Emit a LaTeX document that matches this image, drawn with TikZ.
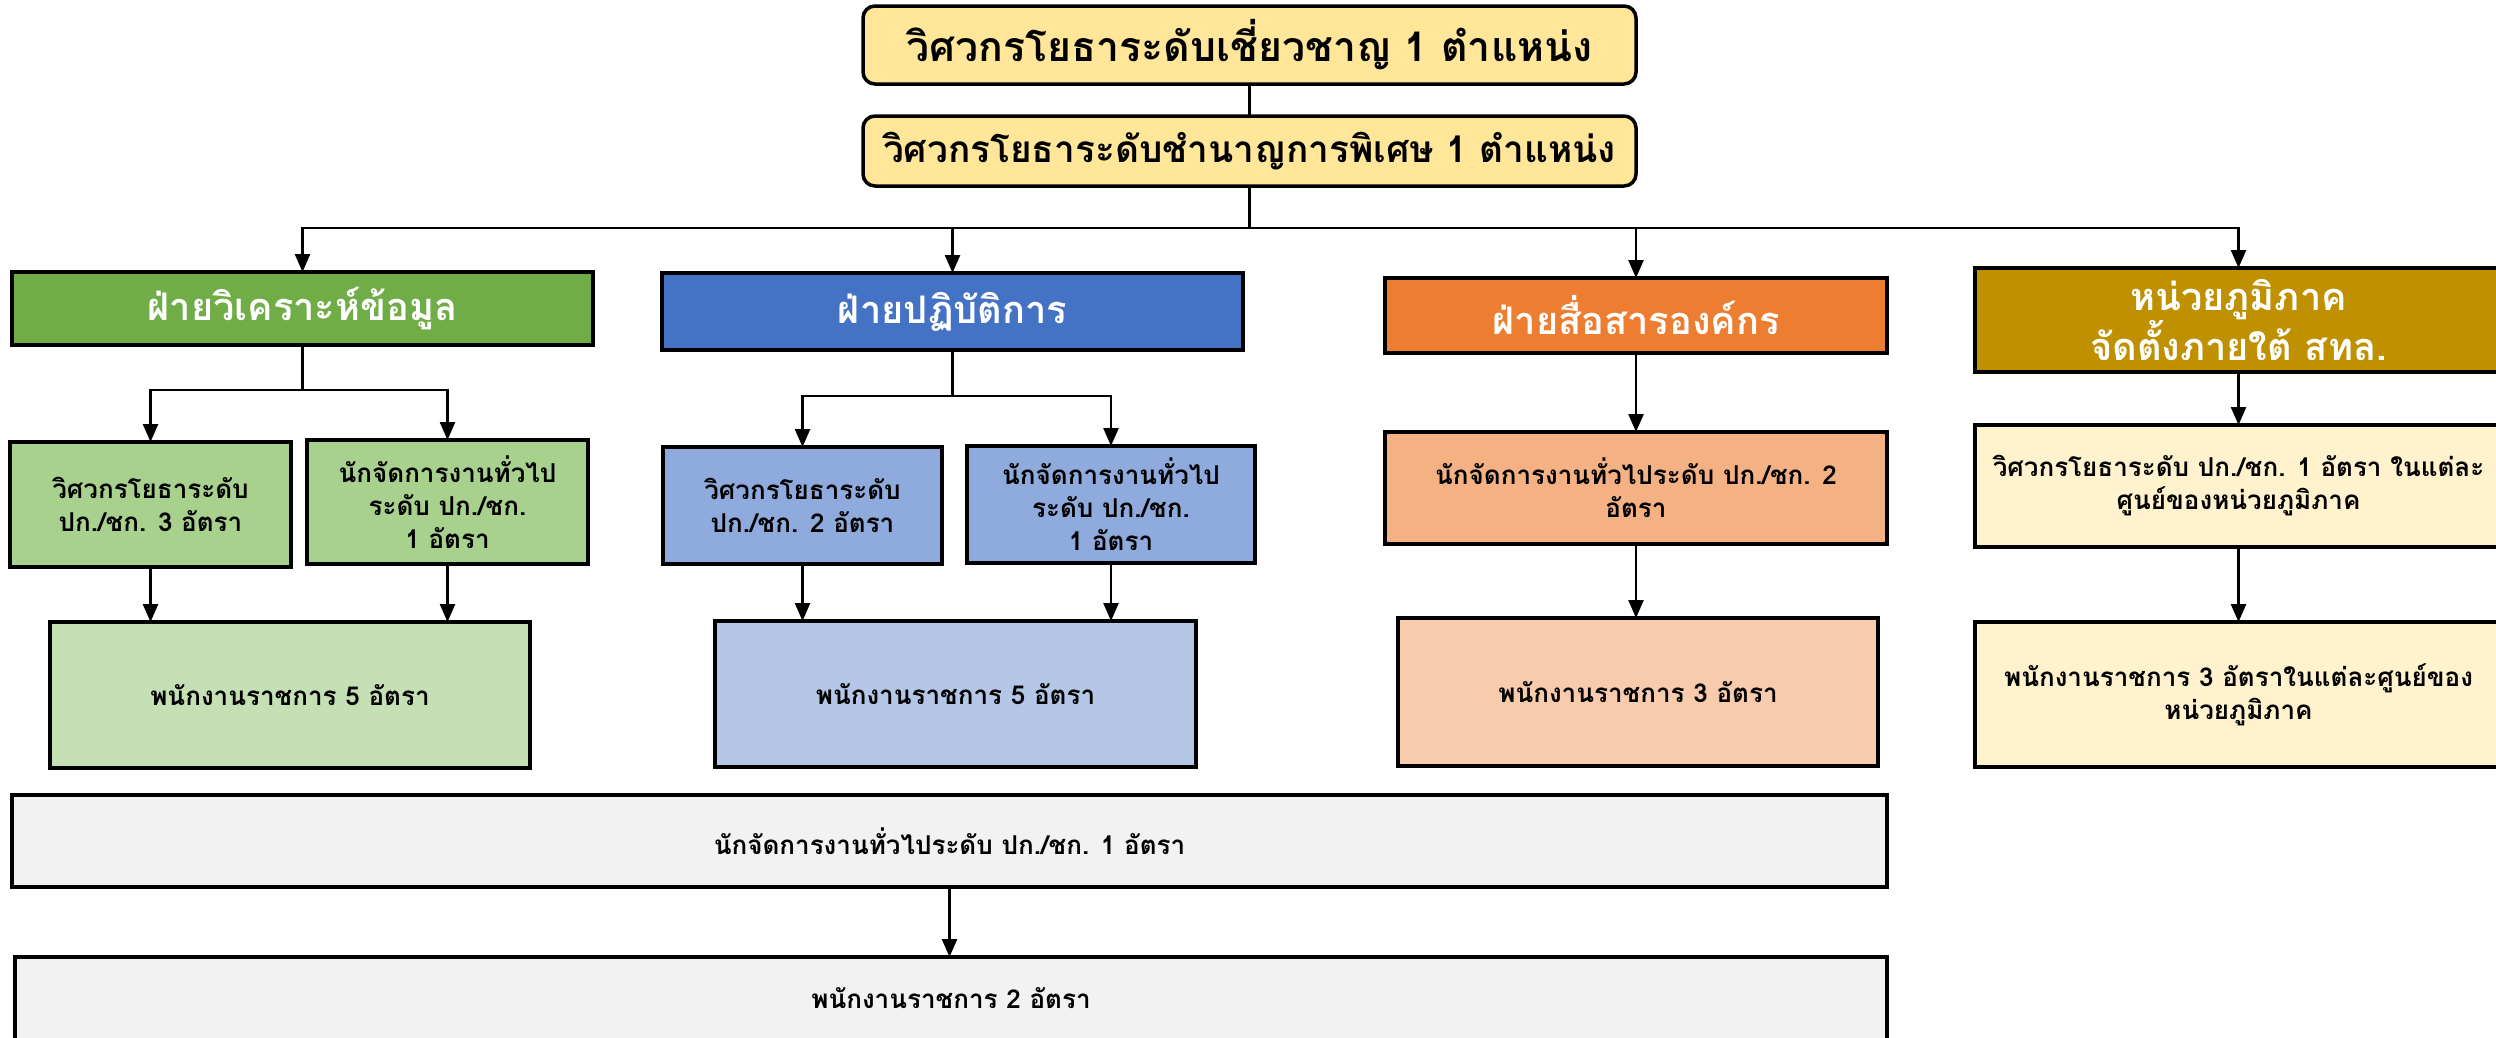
\documentclass[tikz,border=0pt]{standalone}
\usepackage{fontspec}
\newfontfamily\thai[Script=Thai]{Loma}
\usetikzlibrary{arrows.meta}
\definecolor{ttl}{HTML}{FFE699}
\definecolor{dA}{HTML}{70AD47}
\definecolor{dB}{HTML}{4472C4}
\definecolor{dC}{HTML}{ED7D31}
\definecolor{dD}{HTML}{BF9000}
\definecolor{sA}{HTML}{A9D18E}
\definecolor{sB}{HTML}{8FAADC}
\definecolor{sC}{HTML}{F4B183}
\definecolor{sD}{HTML}{FFF2CC}
\definecolor{pA}{HTML}{C5E0B4}
\definecolor{pB}{HTML}{B4C7E7}
\definecolor{pC}{HTML}{F8CBAD}
\definecolor{gry}{HTML}{F2F2F2}
\begin{document}
\begin{tikzpicture}[x=1pt,y=-1pt,
  box/.style={draw=black, line width=3.5pt, inner sep=6pt, outer sep=0pt, align=center,
    text=black, font=\thai\bfseries\fontsize{26}{33}\selectfont},
  ttlbox/.style={box, rounded corners=12pt, fill=ttl},
  dept/.style={box, text=white, font=\thai\bfseries\fontsize{38}{44}\selectfont},
  ln/.style={line width=2.5pt},
  arr/.style={ln, -{Triangle[length=18pt,width=15pt]}}]
\useasboundingbox (0,0) rectangle (2496,1037);
\fill[white] (0,0) rectangle (2496,1037);
\clip (0,0) rectangle (2496,1037);

\node[ttlbox, minimum width=773, minimum height=78, font=\thai\bfseries\fontsize{41}{48}\selectfont] (T1) at (1249.5,45) {วิศวกรโยธาระดับเชี่ยวชาญ 1 ตำแหน่ง};
\node[ttlbox, minimum width=773, minimum height=70, font=\thai\bfseries\fontsize{37}{44}\selectfont] (T2) at (1249.5,151) {วิศวกรโยธาระดับชำนาญการพิเศษ 1 ตำแหน่ง};

\node[dept, fill=dA, minimum width=581, minimum height=73] (D1) at (302.5,308.5) {ฝ่ายวิเคราะห์ข้อมูล};
\node[dept, fill=dB, minimum width=581, minimum height=77] (D2) at (952.5,311.5) {ฝ่ายปฏิบัติการ};
\node[dept, fill=dC, minimum width=502, minimum height=75] (D3) at (1636,315.5) {ฝ่ายสื่อสารองค์กร};
\node[dept, fill=dD, minimum width=527, minimum height=104] (D4) at (2238.5,320) {หน่วยภูมิภาค\\จัดตั้งภายใต้ สทล.};

\node[box, fill=sA, minimum width=281, minimum height=125] (S1a) at (150.5,504.5) {วิศวกรโยธาระดับ\\ปก./ชก. 3 อัตรา};
\node[box, fill=sA, minimum width=281, minimum height=124] (S1b) at (447.5,502) {นักจัดการงานทั่วไป\\ระดับ ปก./ชก.\\1 อัตรา};
\node[box, fill=sB, minimum width=279, minimum height=117] (S2a) at (802.5,505.5) {วิศวกรโยธาระดับ\\ปก./ชก. 2 อัตรา};
\node[box, fill=sB, minimum width=288, minimum height=117] (S2b) at (1111,504.5) {นักจัดการงานทั่วไป\\ระดับ ปก./ชก.\\1 อัตรา};
\node[box, fill=sC, minimum width=502, minimum height=112] (S3) at (1636,488) {นักจัดการงานทั่วไประดับ ปก./ชก. 2\\อัตรา};
\node[box, fill=sD, minimum width=527, minimum height=122] (S4) at (2238.5,486) {วิศวกรโยธาระดับ ปก./ชก. 1 อัตรา ในแต่ละ\\ศูนย์ของหน่วยภูมิภาค};

\node[box, fill=pA, minimum width=480, minimum height=146] (P1) at (290,695) {พนักงานราชการ 5 อัตรา};
\node[box, fill=pB, minimum width=481, minimum height=146] (P2) at (955.5,694) {พนักงานราชการ 5 อัตรา};
\node[box, fill=pC, minimum width=480, minimum height=148] (P3) at (1638,692) {พนักงานราชการ 3 อัตรา};
\node[box, fill=sD, minimum width=527, minimum height=145] (P4) at (2238.5,694.5) {พนักงานราชการ 3 อัตราในแต่ละศูนย์ของ\\หน่วยภูมิภาค};

\node[box, fill=gry, minimum width=1875, minimum height=92] (B1) at (949.5,841) {นักจัดการงานทั่วไประดับ ปก./ชก. 1 อัตรา};
\node[box, fill=gry, minimum width=1872, minimum height=83] (B2) at (951,998.5) {พนักงานราชการ 2 อัตรา};

\coordinate (hub) at (1249.5,228);
\draw[ln] (T1) -- (T2);
\draw[ln] (T2) -- (hub);
\foreach \d in {D1,D2,D3,D4} \draw[arr] (hub) -| (\d);

\coordinate (j1) at (302.5,390);
\draw[ln] (D1) -- (j1);
\draw[arr] (j1) -| (S1a);
\draw[arr] (j1) -| (S1b);
\coordinate (j2) at (952.5,396);
\draw[ln] (D2) -- (j2);
\draw[arr] (j2) -| (S2a);
\draw[arr] (j2) -| (S2b);
\draw[arr] (D3) -- (S3);
\draw[arr] (D4) -- (S4);

\draw[arr] (S1a.south) -- (S1a.south |- P1.north);
\draw[arr] (S1b.south) -- (S1b.south |- P1.north);
\draw[arr] (S2a.south) -- (S2a.south |- P2.north);
\draw[arr] (S2b.south) -- (S2b.south |- P2.north);
\draw[arr] (S3.south) -- (S3.south |- P3.north);
\draw[arr] (S4.south) -- (S4.south |- P4.north);
\draw[arr] (B1.south) -- (B1.south |- B2.north);
\end{tikzpicture}
\end{document}
